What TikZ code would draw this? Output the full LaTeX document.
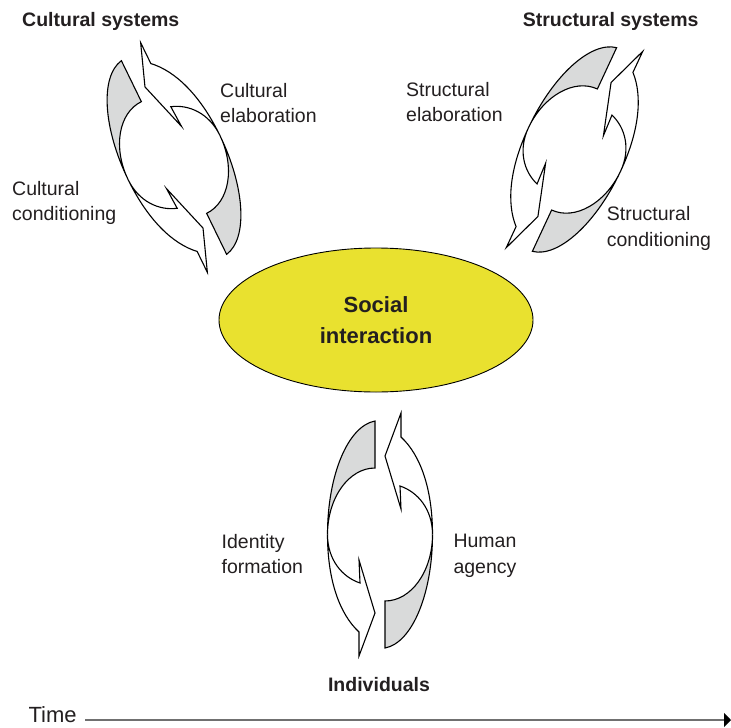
\documentclass[tikz,border=0pt]{standalone}
\usepackage{fontspec}
\setmainfont{Liberation Sans}
\usetikzlibrary{arrows.meta,shapes.geometric}
\definecolor{txt}{HTML}{231F20}
\definecolor{ribbon}{HTML}{D9DADA}
\definecolor{sunny}{HTML}{E9E12F}
\definecolor{timeline}{HTML}{707070}
\tikzset{
  lbl/.style={anchor=base west, inner sep=0pt, text=txt, font=\fontsize{19.5}{25}\selectfont},
  ttl/.style={inner sep=0pt, text=txt, font=\fontsize{19.5}{25}\selectfont\bfseries},
  band/.style={draw=black, line width=1.1pt, miter limit=20},
  hub/.style={ellipse, draw=black, line width=0.9pt, fill=sunny, minimum width=314pt, minimum height=144pt,
    inner sep=0pt, align=center, text=txt, font=\fontsize{22}{31}\selectfont\bfseries},
}
\newcommand\ribbonpair{%
  \foreach \rr in {0,180}{%
    \begin{scope}[rotate=\rr]
      \filldraw[band, fill=ribbon] (-5,113.5) .. controls (-32.3,108.4) and (-52.5,58.8) .. (-52.5,0)
         .. controls (-52.5,36.7) and (-31.2,66.5) .. (-5,66.5) -- cycle;
      \filldraw[band, fill=white] (-52.5,0) .. controls (-52.5,-45.4) and (-40.5,-79.5) .. (-21,-97.5)
         -- (-21,-121.5) -- (-5,-78.5) -- (-21,-25.5) -- (-20,-48.5)
         .. controls (-38,-42.5) and (-52.5,-25) .. (-52.5,0) -- cycle;
    \end{scope}}}
\begin{document}
\begin{tikzpicture}[x=1pt,y=-1pt]
\useasboundingbox (0,0) rectangle (731,728);

% cycles
\begin{scope}[shift={(174,157.5)}, yscale=-1, rotate=-26, scale=0.97]
  \ribbonpair
\end{scope}
\begin{scope}[shift={(574.5,149.5)}, yscale=-1, rotate=25, scale=0.97]
  \ribbonpair
\end{scope}
\begin{scope}[shift={(380,534.5)}, yscale=-1]
  \ribbonpair
\end{scope}

% central ellipse
\node[hub] (soc) at (376,320) {Social\\interaction};

% titles
\node[ttl, anchor=base west] (cs) at (22,26) {Cultural systems};
\node[ttl, anchor=base west] (ss) at (522.7,26) {Structural systems};
\node[ttl, anchor=base] (ind) at (379,691.7) {Individuals};

% labels
\node[lbl] (ce1) at (220,97) {Cultural};
\node[lbl] (ce2) at (220,122) {elaboration};
\node[lbl] (cc1) at (12,195) {Cultural};
\node[lbl] (cc2) at (12,220.5) {conditioning};
\node[lbl] (se1) at (406,96.7) {Structural};
\node[lbl] (se2) at (406,121.7) {elaboration};
\node[lbl] (sc1) at (606.7,220) {Structural};
\node[lbl] (sc2) at (606.7,246) {conditioning};
\node[lbl] (if1) at (221.5,548.3) {Identity};
\node[lbl] (if2) at (221.5,573.3) {formation};
\node[lbl] (ha1) at (453.3,547) {Human};
\node[lbl] (ha2) at (453.3,573) {agency};

% time axis
\node[lbl, font=\fontsize{22}{26}\selectfont] (time) at (28.3,722.7) {Time};
\coordinate (tstart) at (85,720);
\coordinate (tend) at (731,720);
\draw[timeline, line width=1.5pt, -{Triangle[length=7pt,width=14pt,color=black]}] (tstart) -- (tend);
\end{tikzpicture}
\end{document}
